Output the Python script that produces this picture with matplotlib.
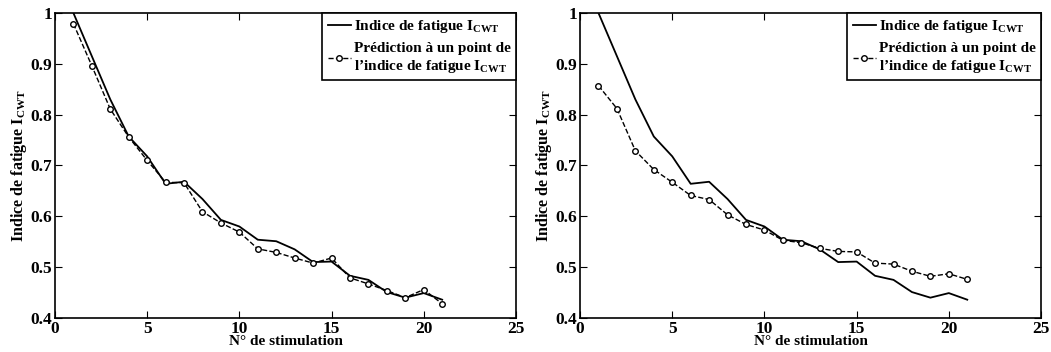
import matplotlib
matplotlib.use("Agg")
import matplotlib.pyplot as plt
import numpy as np

plt.rcParams['font.family'] = 'Liberation Serif'
plt.rcParams['font.weight'] = 'bold'
plt.rcParams['mathtext.fontset'] = 'custom'
plt.rcParams['mathtext.rm'] = 'Liberation Serif:bold'
plt.rcParams['mathtext.bf'] = 'Liberation Serif:bold'
plt.rcParams['mathtext.it'] = 'Liberation Serif:bold'

# stimulation number
stim = np.arange(1, 22)

# measured fatigue index (same on both panels)
indice = [1.0, 0.915, 0.83, 0.757, 0.718, 0.664, 0.668, 0.634, 0.593, 0.580, 0.554,
          0.551, 0.535, 0.510, 0.511, 0.483, 0.475, 0.451, 0.440, 0.449, 0.436]

# one-step prediction, left panel
pred_gauche = [0.979, 0.896, 0.811, 0.756, 0.710, 0.667, 0.666, 0.609, 0.587, 0.569, 0.536,
               0.529, 0.518, 0.508, 0.518, 0.479, 0.467, 0.454, 0.440, 0.456, 0.428]

# one-step prediction, right panel
pred_droite = [0.857, 0.812, 0.729, 0.692, 0.667, 0.641, 0.633, 0.603, 0.584, 0.573, 0.553,
               0.548, 0.537, 0.531, 0.530, 0.508, 0.506, 0.492, 0.482, 0.487, 0.476]

label1 = r'Indice de fatigue I$_{\mathregular{CWT}}$'
label2 = 'Prédiction à un point de\n' + r'l’indice de fatigue I$_{\mathregular{CWT}}$'

fig = plt.figure(figsize=(10.51, 3.52), dpi=100)
ax1 = fig.add_axes([0.0523, 0.0966, 0.4386, 0.8665])
ax2 = fig.add_axes([0.5519, 0.0966, 0.4386, 0.8665])

for ax, pred in [(ax1, pred_gauche), (ax2, pred_droite)]:
    ax.plot(stim, indice, 'k-', lw=1.3, label=label1)
    ax.plot(stim, pred, 'k--', lw=1.0, marker='o', ms=4, mfc='white', mew=1.0, label=label2)
    ax.set_xlim(0, 25)
    ax.set_ylim(0.4, 1.0)
    ax.set_xticks([0, 5, 10, 15, 20, 25])
    ax.set_yticks([0.4, 0.5, 0.6, 0.7, 0.8, 0.9, 1.0])
    ax.set_yticklabels(['0.4', '0.5', '0.6', '0.7', '0.8', '0.9', '1'])
    ax.tick_params(direction='in', top=True, right=True, labelsize=12.5, length=5, pad=2)
    for s in ax.spines.values():
        s.set_linewidth(1.2)
    ax.set_xlabel('N° de stimulation', fontsize=11, fontweight='bold', labelpad=-1)
    ax.set_ylabel(r'Indice de fatigue I$_{\mathregular{CWT}}$', fontsize=11.5, fontweight='bold', labelpad=1)
    leg = ax.legend(loc='upper right', fontsize=11, frameon=True, fancybox=False,
                    edgecolor='black', framealpha=1, borderaxespad=0, handlelength=1.5,
                    handletextpad=0.2, borderpad=0.35, labelspacing=0.45)
    leg.get_frame().set_linewidth(1.2)

fig.savefig('out.png', dpi=100)
